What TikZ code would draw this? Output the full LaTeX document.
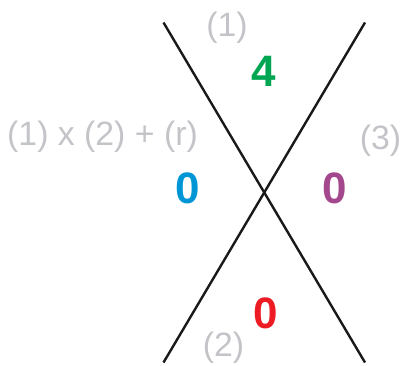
\documentclass[tikz,border=0pt]{standalone}
\usepackage{fontspec}
\setmainfont{Liberation Sans}
\definecolor{lgray}{HTML}{C3C4C8}
\definecolor{cgreen}{HTML}{00A651}
\definecolor{cblue}{HTML}{0096D6}
\definecolor{cpurple}{HTML}{A3488C}
\definecolor{cred}{HTML}{ED1C24}
\begin{document}
\begin{tikzpicture}[x=1pt,y=1pt,
  lbl/.style={inner sep=0pt, text=lgray, font=\fontsize{33.8}{38}\selectfont},
  num/.style={inner sep=0pt, font=\fontsize{44}{48}\selectfont\bfseries},
  ln/.style={line width=2.4pt, draw=black!90}]
\useasboundingbox (0,0) rectangle (404,365);
\coordinate (tl) at (163.5,342.5);
\coordinate (tr) at (365,342.5);
\coordinate (bl) at (163.5,2.5);
\coordinate (br) at (365,2.5);
\draw[ln] (tl) -- (br);
\draw[ln] (tr) -- (bl);
\node[lbl] (l1) at (227,337) {(1)};
\node[lbl] (lf) at (102.5,228) {(1) x (2) + (r)};
\node[lbl] (l3) at (380.5,224) {(3)};
\node[lbl] (l2) at (223.5,17) {(2)};
\node[num, text=cgreen] (n4) at (264,294) {4};
\node[num, text=cblue] (nb) at (188,177) {0};
\node[num, text=cpurple] (np) at (335,177) {0};
\node[num, text=cred] (nr) at (265.5,52) {0};
\end{tikzpicture}
\end{document}
